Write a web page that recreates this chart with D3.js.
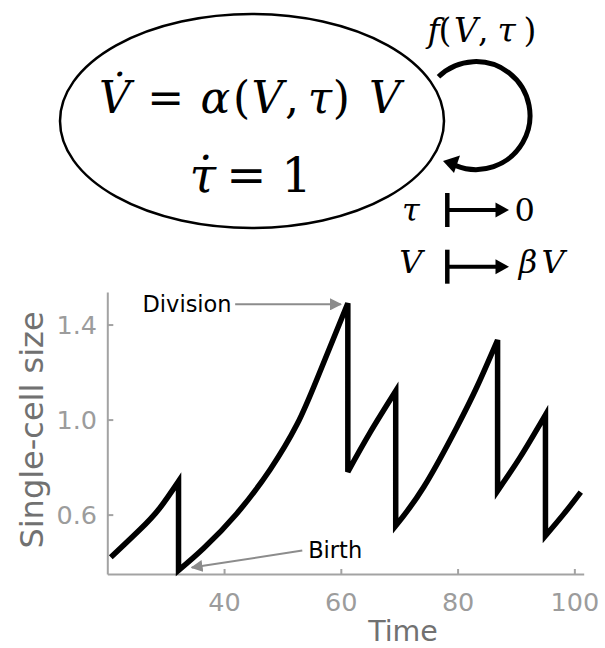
<!DOCTYPE html>
<html>
<head>
<meta charset="utf-8">
<script src="https://cdn.jsdelivr.net/npm/d3@7"></script>
<style>
  body { margin: 0; background: #fff; }
</style>
</head>
<body>
<div id="chart"></div>
<script>
// single-cell size over time, one array per cell cycle: [time, size]
var cycle0 = [[20.6, 0.42], [25.6, 0.537], [29.0, 0.628], [32.2, 0.74]];
var cycle1 = [[32.2, 0.365], [36.5, 0.458], [42.2, 0.605], [47.9, 0.79], [52.5, 0.98], [55.9, 1.17], [61.2, 1.49]];
var cycle2 = [[61.2, 0.78], [65.0, 0.945], [69.4, 1.12]];
var cycle3 = [[69.4, 0.553], [74.2, 0.716], [79.9, 0.969], [83.3, 1.137], [85.6, 1.264], [86.85, 1.335]];
var cycle4 = [[86.85, 0.70], [90.75, 0.843], [95.05, 1.02]];
var cycle5 = [[95.05, 0.511], [98.2, 0.603], [101.1, 0.695]];
var cycles = [cycle0, cycle1, cycle2, cycle3, cycle4, cycle5];

var xTicks = [40, 60, 80, 100];
var yTicks = [0.6, 1.0, 1.4];
var xDomain = [20, 101.6];
var yDomain = [0.35, 1.537];

// annotation anchors in data units
var divisionText = [41.3, 1.485], divisionFrom = [41.9, 1.485], divisionTo = [60.0, 1.485];
var birthText = [54.4, 0.416], birthFrom = [53.4, 0.449], birthTo = [34.47, 0.377];

var W = 605, H = 648;
var svg = d3.select("#chart").append("svg")
    .attr("width", W)
    .attr("height", H);

// ---------- model diagram on top ----------
var serif = "'DejaVu Serif', serif";
var diagram = svg.append("g");

diagram.append("ellipse")
    .attr("cx", 252).attr("cy", 121)
    .attr("rx", 192).attr("ry", 107)
    .attr("fill", "none")
    .attr("stroke", "#000")
    .attr("stroke-width", 2.5);

function mathTokens(tokens, y, size) {
    var t = diagram.append("text")
        .attr("y", y)
        .attr("font-family", serif)
        .attr("font-size", size)
        .attr("text-anchor", "middle")
        .attr("fill", "#000");
    tokens.forEach(function(d) {
        t.append("tspan")
            .attr("x", d[1])
            .attr("font-style", d[2] ? "italic" : "normal")
            .text(d[0]);
    });
    return t;
}

mathTokens([["V\u0307", 114.8, 1], ["=", 165.8, 0], ["\u03b1", 215.3, 1], ["(", 241.5, 0], ["V", 267.5, 1],
            [",", 292, 0], ["\u03c4", 320, 1], [")", 341.3, 0], ["V", 385, 1]], 113, 44);
mathTokens([["\u03c4\u0307", 202.7, 1], ["=", 246.3, 0], ["1", 296.5, 0]], 191.7, 48);
mathTokens([["f", 433.7, 1], ["(", 445, 0], ["V", 465.8, 1], [",", 483.3, 0], ["\u03c4", 506.7, 1], [")", 530, 0]], 41.7, 33);
mathTokens([["\u03c4", 410.8, 1], ["0", 524.8, 0]], 220.5, 32);
mathTokens([["V", 410.8, 1], ["\u03b2", 528, 1], ["V", 553, 1]], 273.3, 32);

// loop arrow for the division map
var loop = d3.path();
loop.arc(476, 115.6, 54, -134 * Math.PI / 180, 112 * Math.PI / 180, false);
diagram.append("path")
    .attr("d", loop.toString())
    .attr("fill", "none")
    .attr("stroke", "#000")
    .attr("stroke-width", 5);
diagram.append("path")
    .attr("d", "M443,161L460,155.5L454,173Z")
    .attr("fill", "#000");

// maps-to arrows
[210, 266.7].forEach(function(y) {
    diagram.append("line")
        .attr("x1", 447.3).attr("x2", 447.3)
        .attr("y1", y - 17).attr("y2", y + 17)
        .attr("stroke", "#000").attr("stroke-width", 4.5);
    diagram.append("line")
        .attr("x1", 447.3).attr("x2", 498)
        .attr("y1", y).attr("y2", y)
        .attr("stroke", "#000").attr("stroke-width", 4);
    diagram.append("path")
        .attr("d", "M509," + y + "L495.5," + (y - 7.5) + "L495.5," + (y + 7.5) + "Z")
        .attr("fill", "#000");
});

// ---------- size trajectory ----------
var sans = "'DejaVu Sans', sans-serif";
var axisGrey = "#a3a3a3", tickGrey = "#9c9c9c", titleGrey = "#717171", noteGrey = "#8c8c8c";

var x = d3.scaleLinear().domain(xDomain).range([107.3, 583.7]);
var y = d3.scaleLinear().domain(yDomain).range([574, 292]);

var xAxis = svg.append("g")
    .attr("transform", "translate(0," + y(yDomain[0]) + ")")
    .call(d3.axisBottom(x).tickValues(xTicks).tickSizeInner(-5).tickSizeOuter(0).tickPadding(18.6).tickFormat(d3.format("d")));

var yAxis = svg.append("g")
    .attr("transform", "translate(" + x(xDomain[0]) + ",0)")
    .call(d3.axisLeft(y).tickValues(yTicks).tickSizeInner(-6).tickSizeOuter(0).tickPadding(10.3).tickFormat(d3.format(".1f")));

[xAxis, yAxis].forEach(function(a) {
    a.select(".domain").attr("stroke", axisGrey).attr("stroke-width", 2);
    a.selectAll(".tick line").attr("stroke", axisGrey).attr("stroke-width", 2);
    a.selectAll(".tick text")
        .attr("fill", tickGrey)
        .attr("font-family", sans)
        .attr("font-size", 25.5);
});
yAxis.selectAll(".tick text").attr("dy", "0.365em");

svg.append("text")
    .attr("x", 403).attr("y", 641)
    .attr("text-anchor", "middle")
    .attr("font-family", sans)
    .attr("font-size", 28.5)
    .attr("fill", titleGrey)
    .text("Time");

svg.append("text")
    .attr("transform", "translate(42.5,430) rotate(-90)")
    .attr("text-anchor", "middle")
    .attr("font-family", sans)
    .attr("font-size", 32)
    .attr("fill", titleGrey)
    .text("Single-cell size");

// one path: growth curves joined by vertical drops at division
var line = d3.line()
    .x(function(d) { return x(d[0]); })
    .y(function(d) { return y(d[1]); })
    .curve(d3.curveNatural);

var trace = cycles.map(function(c, i) {
    var s = line(c);
    return i ? s.replace(/^M/, "L") : s;
}).join("");

svg.append("path")
    .attr("d", trace)
    .attr("fill", "none")
    .attr("stroke", "#000")
    .attr("stroke-width", 5.5);

// annotations
svg.append("defs").append("marker")
    .attr("id", "head")
    .attr("viewBox", "0 0 10 10")
    .attr("refX", 9).attr("refY", 5)
    .attr("markerWidth", 6).attr("markerHeight", 6)
    .attr("markerUnits", "strokeWidth")
    .attr("orient", "auto")
  .append("path")
    .attr("d", "M0,0L10,5L0,10Z")
    .attr("fill", noteGrey);

function note(from, to) {
    svg.append("line")
        .attr("x1", x(from[0])).attr("y1", y(from[1]))
        .attr("x2", x(to[0])).attr("y2", y(to[1]))
        .attr("stroke", noteGrey)
        .attr("stroke-width", 2)
        .attr("marker-end", "url(#head)");
}

note(divisionFrom, divisionTo);
note(birthFrom, birthTo);

svg.append("text")
    .attr("x", x(divisionText[0])).attr("y", y(divisionText[1]))
    .attr("dy", "0.36em")
    .attr("text-anchor", "end")
    .attr("font-family", sans)
    .attr("font-size", 22.5)
    .attr("fill", "#000")
    .text("Division");

svg.append("text")
    .attr("x", x(birthText[0])).attr("y", y(birthText[1]))
    .attr("text-anchor", "start")
    .attr("font-family", sans)
    .attr("font-size", 22.5)
    .attr("fill", "#000")
    .text("Birth");
</script>
</body>
</html>
